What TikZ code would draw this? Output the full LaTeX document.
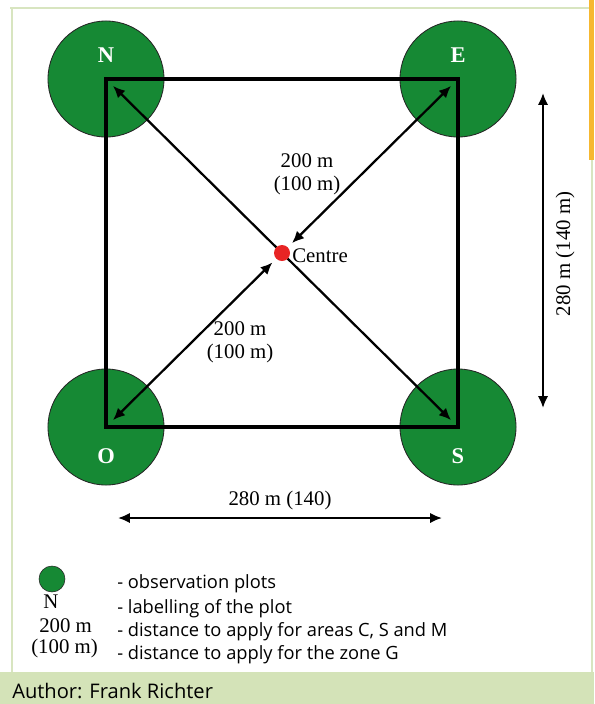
\documentclass[tikz,border=0pt]{standalone}
\usepackage{fontspec}
\setmainfont{Liberation Serif}
\newfontfamily\legendfont{Open Sans}
\usetikzlibrary{arrows.meta}

\definecolor{plotgreen}{RGB}{22,137,52}
\definecolor{centrered}{RGB}{232,36,36}
\definecolor{framegreen}{RGB}{216,229,192}
\definecolor{bargreen}{RGB}{212,227,184}
\definecolor{tabOrange}{RGB}{246,184,48}

\begin{document}
\begin{tikzpicture}[
  x=0.025cm, y=-0.025cm,
  >={Latex[length=8.5pt, width=7.5pt]},
  plot/.style     = {draw=black!85, line width=0.6pt, fill=plotgreen, circle, inner sep=0pt, minimum size=2.9cm},
  plotname/.style = {font=\fontsize{16}{19}\selectfont\bfseries, text=white, anchor=base, inner sep=0pt},
  dist/.style     = {font=\fontsize{14.8}{16.5}\selectfont, inner sep=0pt},
  side/.style     = {line width=2.8pt, line join=miter},
  ray/.style      = {<->, line width=1.6pt},
  legend/.style   = {font=\legendfont\fontsize{13}{16}\selectfont, anchor=base west, inner sep=0pt},
]
  \useasboundingbox (0,0) rectangle (594,704);

  % ---- frame and author bar ----
  \fill[tabOrange] (589,0) rectangle (594,160);
  \draw[framegreen, line width=1.2pt] (10,8) -- (589,8);
  \draw[framegreen, line width=1.2pt] (12,8) -- (12,672);
  \draw[framegreen, line width=1.2pt] (592,160) -- (592,672);
  \fill[bargreen] (0,672) rectangle (594,704);
  \node[legend, font=\legendfont\fontsize{14.3}{17}\selectfont] (author) at (12,698) {Author: Frank Richter};

  % ---- observation plots at the corners ----
  \node[plot] (N) at (106,79)  {};
  \node[plot] (E) at (458,79)  {};
  \node[plot] (S) at (458,427) {};
  \node[plot] (O) at (106,427) {};

  \node[plotname] (labN) at (106,62)  {N};
  \node[plotname] (labE) at (458,62)  {E};
  \node[plotname] (labO) at (106,463) {O};
  \node[plotname] (labS) at (458,463) {S};

  \draw[side] (N.center) -- (E.center) -- (S.center) -- (O.center) -- cycle;

  % ---- centre and distances ----
  \coordinate (C) at (282,253);

  \draw[ray, shorten <=7pt, shorten >=7pt]  (N.center) -- (S.center);
  \draw[ray, shorten <=7pt, shorten >=10pt] (E.center) -- (C);
  \draw[ray, shorten <=7pt, shorten >=9.6pt] (O.center) -- (C);

  \node[circle, fill=centrered, inner sep=0pt, minimum size=0.4cm] (dot) at (C) {};
  \node[dist, anchor=base west] (centre) at (292,262) {Centre};

  \node[dist, align=center] (distNE) at (307,174) {200 m\\(100 m)};
  \node[dist, align=center] (distSW) at (240,342) {200 m\\(100 m)};

  % ---- side lengths ----
  \coordinate (dimL) at (118,518);
  \coordinate (dimR) at (442,518);
  \coordinate (dimT) at (543,93);
  \coordinate (dimB) at (543,408);

  \draw[ray] (dimL) -- (dimR);
  \draw[ray] (dimT) -- (dimB);

  \node[dist, anchor=base] (lenH) at (280,505) {280 m (140)};
  \node[dist, anchor=base, rotate=90] (lenV) at (570,254) {280 m (140 m)};

  % ---- legend ----
  \node[plot, minimum size=0.65cm, line width=0.4pt] (key) at (52,579) {};
  \node[dist, anchor=base west] (keyN)   at (43,608) {N};
  \node[dist, anchor=base west] (keyD)   at (39,632) {200 m};
  \node[dist, anchor=base west] (keyG)   at (31,653) {(100 m)};

  \node[legend] (txtPlot)  at (117,588) {- observation plots};
  \node[legend] (txtName)  at (117,613) {- labelling of the plot};
  \node[legend] (txtDist)  at (117,636) {- distance to apply for areas C, S and M};
  \node[legend] (txtZone)  at (117,659) {- distance to apply for the zone G};
\end{tikzpicture}
\end{document}
